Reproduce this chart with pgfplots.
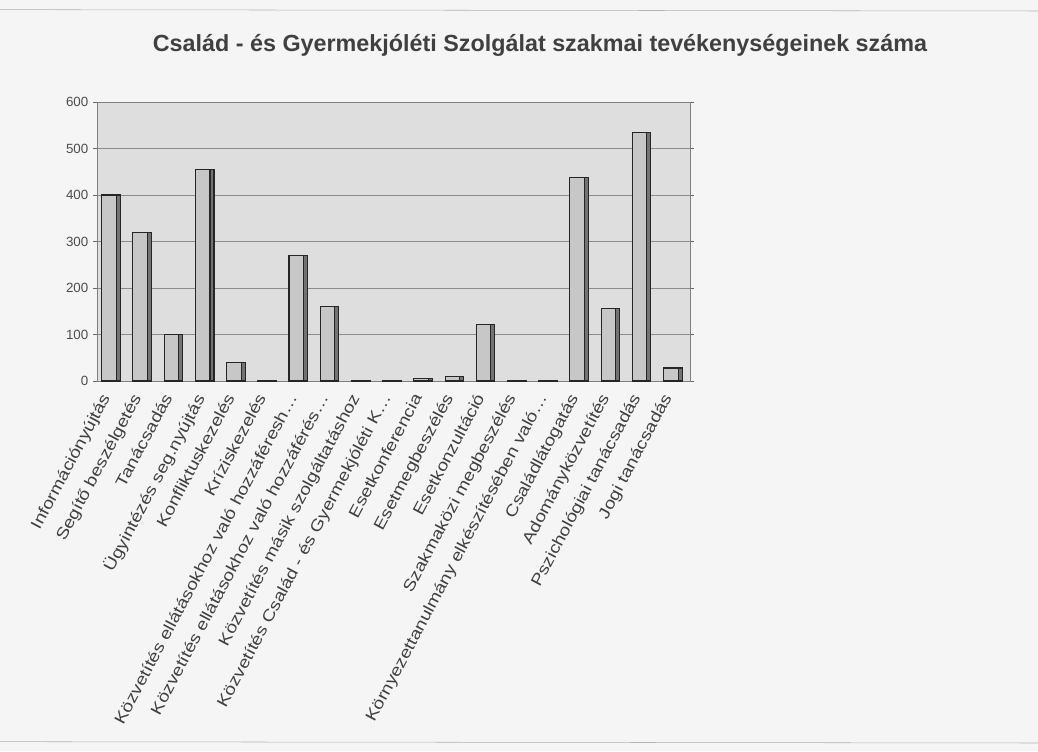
\documentclass[border=0pt]{standalone}
\usepackage{pgfplots}
\pgfplotsset{compat=1.18}
\usepackage{fontspec}
\setmainfont{Liberation Sans}
\newcommand\SL[1]{\scalebox{1.2}[1]{#1}}
\begin{document}
\begin{tikzpicture}
\path[use as bounding box, fill=black!4] (0pt,0pt) rectangle (778.5pt,563.25pt);
\draw[black!30] (0pt,556pt) -- (778.5pt,555pt);
\draw[black!30] (0pt,7pt) -- (778.5pt,6pt);
\node[font=\bfseries\fontsize{17.5}{20}\selectfont, text=black!75] at (405pt,529pt) {Család - és Gyermekjóléti Szolgálat szakmai tevékenységeinek száma};
\begin{axis}[at={(72.75pt,277.5pt)}, anchor=south west,
  width=444.75pt, height=209.25pt, scale only axis,
  xmin=-0.45, xmax=18.55, ymin=0, ymax=600,
  ytick={0,100,200,300,400,500,600},
  xtick={0,1,2,3,4,5,6,7,8,9,10,11,12,13,14,15,16,17,18},
  xticklabels={\SL{Információnyújtás}, \SL{Segítő beszélgetés}, \SL{Tanácsadás}, \SL{Ügyintézés seg.nyújtás}, \SL{Konfliktuskezelés}, \SL{Kríziskezelés}, \SL{Közvetítés ellátásokhoz való hozzáféresh\ldots}, \SL{Közvetítés ellátásokhoz való hozzáférés\ldots}, \SL{Közvetítés másik szolgáltatáshoz}, \SL{Közvetítés Család - és Gyermekjóléti K\ldots}, \SL{Esetkonferencia}, \SL{Esetmegbeszélés}, \SL{Esetkonzultáció}, \SL{Szakmaközi megbeszélés}, \SL{Környezettanulmány elkészítésében való\ldots}, \SL{Családlátogatás}, \SL{Adományközvetítés}, \SL{Pszichológiai tanácsadás}, \SL{Jogi tanácsadás}},
  x tick label style={xshift=-9pt, yshift=-3pt, rotate=62, anchor=north east, font=\fontsize{12}{13}\selectfont, text=black!75, inner sep=1.5pt},
  y tick label style={font=\fontsize{10}{12}\selectfont, text=black!70},
  /pgf/number format/assume math mode=true,
  xtick style={draw=none},
  ytick style={black!60},
  major tick length=3pt,
  tick align=outside,
  ymajorgrids, grid style={black!45},
  axis background/.style={fill=black!13},
  axis line style={black!50},
  clip=false,
]
\addplot[ybar, bar width=11pt, bar shift=-1.5pt, fill=black!22, draw=black!85, line width=0.8pt] coordinates {
(0,400) (1,320) (2,100) (3,455) (4,40) (5,2) (6,270) (7,160) (8,1) (9,2) (10,5) (11,10) (12,122) (13,1) (14,0.5) (15,438) (16,155) (17,535) (18,28)};
\addplot[ybar, bar width=3pt, bar shift=5.5pt, fill=black!55, draw=black!85, line width=0.8pt] coordinates {
(0,400) (1,320) (2,100) (3,455) (4,40) (5,2) (6,270) (7,160) (8,1) (9,2) (10,5) (11,10) (12,122) (13,1) (14,0.5) (15,438) (16,155) (17,535) (18,28)};
\end{axis}
\end{tikzpicture}
\end{document}
